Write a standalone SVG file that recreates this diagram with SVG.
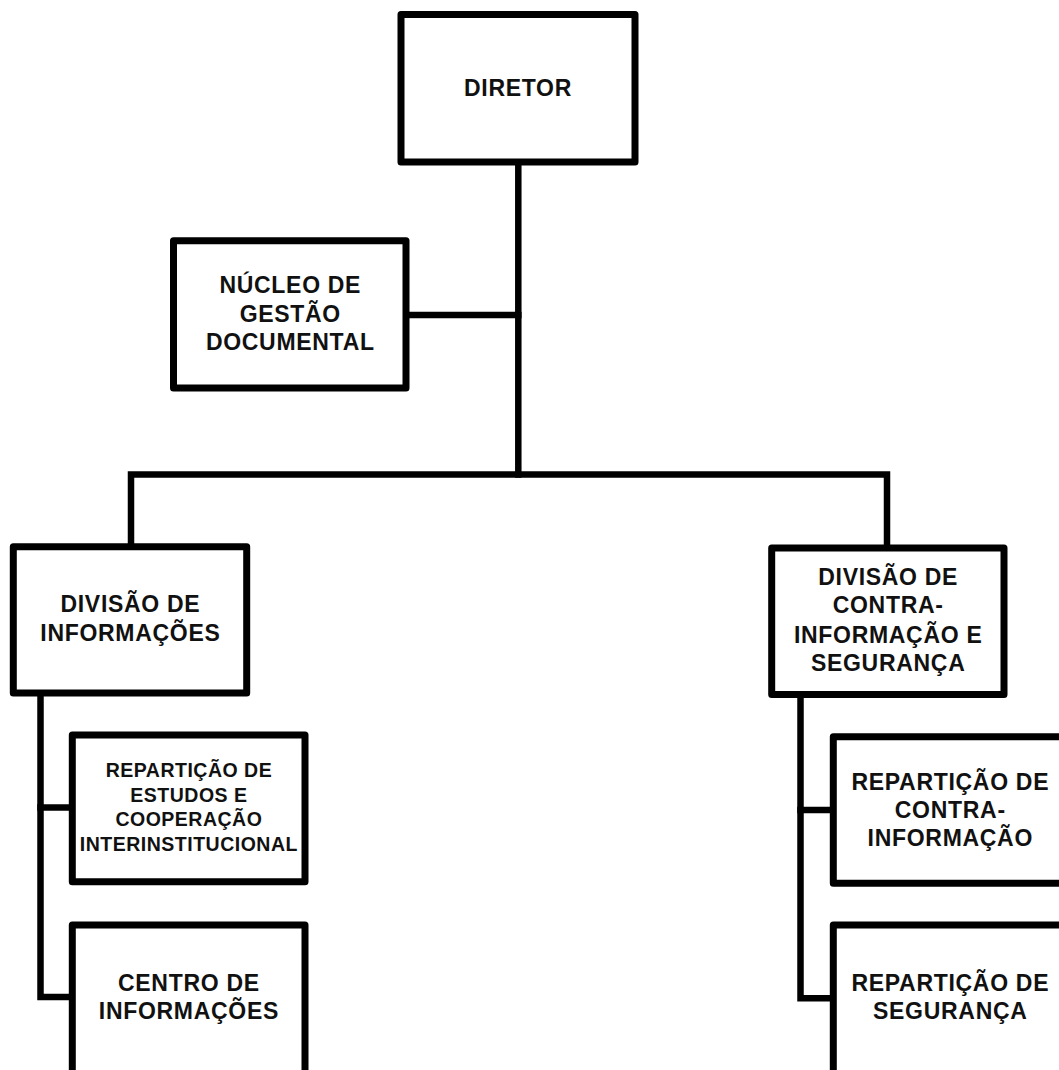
<svg xmlns="http://www.w3.org/2000/svg" width="1059" height="1070" viewBox="0 0 1059 1070">
<style>
.box{fill:#fff;stroke:#000;stroke-width:7;stroke-linejoin:round}
.ln{fill:none;stroke:#000;stroke-width:6.5;stroke-linejoin:miter;stroke-linecap:square}
.t{font-family:"Liberation Sans",Arial,sans-serif;font-weight:bold;font-size:23px;letter-spacing:0.7px;text-anchor:middle;fill:#111}
.s{font-size:19.5px;letter-spacing:0.5px}
</style>
<rect width="1059" height="1070" fill="#fff"/>
<g id="connectors">
<line class="ln" x1="518.3" y1="165" x2="518.3" y2="474.5"/>
<line class="ln" x1="409" y1="315" x2="518.3" y2="315"/>
<polyline class="ln" points="131,543 131,474.5 887,474.5 887,544.5"/>
<polyline class="ln" points="40.5,697 40.5,997 69,997"/>
<line class="ln" x1="40.5" y1="807.5" x2="69" y2="807.5"/>
<polyline class="ln" points="800.5,698 800.5,998.3 830,998.3"/>
<line class="ln" x1="800.5" y1="810" x2="830" y2="810"/>
</g>
<g id="diretor">
<rect class="box" x="401" y="14.5" width="234" height="147.5"/>
<text class="t" x="518" y="96">DIRETOR</text>
</g>
<g id="nucleo">
<rect class="box" x="173.5" y="240.7" width="232.5" height="147.3"/>
<text class="t" x="290.3" y="293.3">NÚCLEO DE</text>
<text class="t" x="290.3" y="321.7">GESTÃO</text>
<text class="t" x="290.3" y="350">DOCUMENTAL</text>
</g>
<g id="div-informacoes">
<rect class="box" x="13.3" y="546.7" width="233.4" height="146.3"/>
<text class="t" x="130.4" y="612.3">DIVISÃO DE</text>
<text class="t" x="130.4" y="640.7">INFORMAÇÕES</text>
</g>
<g id="div-contra">
<rect class="box" x="771.7" y="548" width="232.3" height="146.5"/>
<text class="t" x="888.2" y="585">DIVISÃO DE</text>
<text class="t" x="888.2" y="613.3">CONTRA-</text>
<text class="t" x="888.2" y="642.7">INFORMAÇÃO E</text>
<text class="t" x="888.2" y="670.7">SEGURANÇA</text>
</g>
<g id="rep-estudos">
<rect class="box" x="72.3" y="735" width="232.7" height="146.7"/>
<text class="t s" x="188.9" y="777.3">REPARTIÇÃO DE</text>
<text class="t s" x="188.9" y="801.7">ESTUDOS E</text>
<text class="t s" x="188.9" y="826">COOPERAÇÃO</text>
<text class="t s" x="188.9" y="850.7">INTERINSTITUCIONAL</text>
</g>
<g id="centro-informacoes">
<rect class="box" x="72.3" y="925" width="232.7" height="160"/>
<text class="t" x="188.9" y="990.7">CENTRO DE</text>
<text class="t" x="188.9" y="1019.3">INFORMAÇÕES</text>
</g>
<g id="rep-contra">
<rect class="box" x="833.3" y="736.7" width="233.4" height="146.6"/>
<text class="t" x="950.3" y="790">REPARTIÇÃO DE</text>
<text class="t" x="950.3" y="818.3">CONTRA-</text>
<text class="t" x="950.3" y="846">INFORMAÇÃO</text>
</g>
<g id="rep-seguranca">
<rect class="box" x="833.3" y="925" width="233.4" height="160"/>
<text class="t" x="950.3" y="990.7">REPARTIÇÃO DE</text>
<text class="t" x="950.3" y="1019.3">SEGURANÇA</text>
</g>
</svg>
